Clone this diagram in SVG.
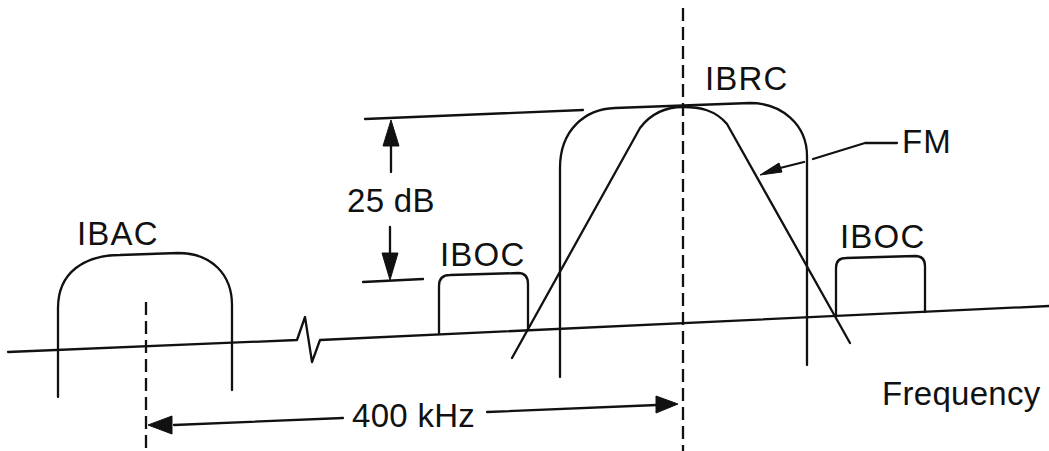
<svg xmlns="http://www.w3.org/2000/svg" width="1049" height="451" viewBox="0 0 1049 451">
<style>
.ln{fill:none;stroke:#111;stroke-width:2.3;stroke-linecap:round;stroke-linejoin:round}
.dash{fill:none;stroke:#111;stroke-width:2.3;stroke-dasharray:13,6}
.ah{fill:#111;stroke:#111;stroke-width:1;stroke-linejoin:round}
.t{font-family:"Liberation Sans",Arial,sans-serif;font-size:33px;fill:#111;letter-spacing:1.2px}
</style>
<rect width="1049" height="451" fill="#fff"/>
<g id="axis">
<path class="ln" d="M8,352 L297,340 L305,317 L312,362 L320,340 L1049,306"/>
<text class="t" x="882" y="405" style="letter-spacing:0.3px">Frequency</text>
</g>
<g id="ibac">
<path class="ln" d="M58,397 L58,308 C58,272 85,255 120,255 L178,253 C212,253 232,275 232,305 L232,390"/>
<text class="t" x="77" y="245">IBAC</text>
</g>
<g id="iboc-left">
<path class="ln" d="M439,333 L439,286 Q439,275 450,275 L518,273 Q528,273 528,284 L528,330"/>
<text class="t" x="440" y="266">IBOC</text>
</g>
<g id="ibrc">
<path class="ln" d="M560,377 L560,168 C560,130 585,109 615,108 L750,103 C782,103 807,125 807,156 L807,365"/>
<text class="t" x="705" y="90">IBRC</text>
</g>
<g id="fm">
<path class="ln" d="M512,358 L640,128 C652,112 668,107 683,107 C700,107 715,110 727,124 L850,343"/>
<text class="t" x="902" y="153">FM</text>
</g>
<g id="iboc-right">
<path class="ln" d="M836,316 L836,268 Q836,258 846,258 L915,256 Q925,256 925,266 L925,312"/>
<text class="t" x="840" y="248">IBOC</text>
</g>
<g id="level">
<text class="t" x="347" y="212" style="letter-spacing:0.3px">25 dB</text>
</g>
<g id="spacing">
<text class="t" x="352" y="427" style="letter-spacing:0.3px">400 kHz</text>
</g>
<g id="connectors">
<path class="dash" d="M683,8 L683,451"/>
<path class="dash" d="M146,302 L146,451"/>
<path class="ln" d="M365,119 L583,110"/>
<path class="ln" d="M363,282 L423,279"/>
<path class="ln" d="M391,172 L391,142"/>
<polygon class="ah" points="391,120 383,146 399,146"/>
<path class="ln" d="M390,227 L390,256"/>
<polygon class="ah" points="382,253 398,253 390,280"/>
<path class="ln" d="M174,425 L343,418"/>
<polygon class="ah" points="148,425 172,416 172,434"/>
<path class="ln" d="M487,412 L657,405"/>
<polygon class="ah" points="678,404 656,396 656,413"/>
<path class="ln" d="M780,168 L804,162"/>
<path class="ln" d="M813,159 L865,143 L897,143"/>
<polygon class="ah" points="760,175 779,163 782,172"/>
</g>
</svg>
